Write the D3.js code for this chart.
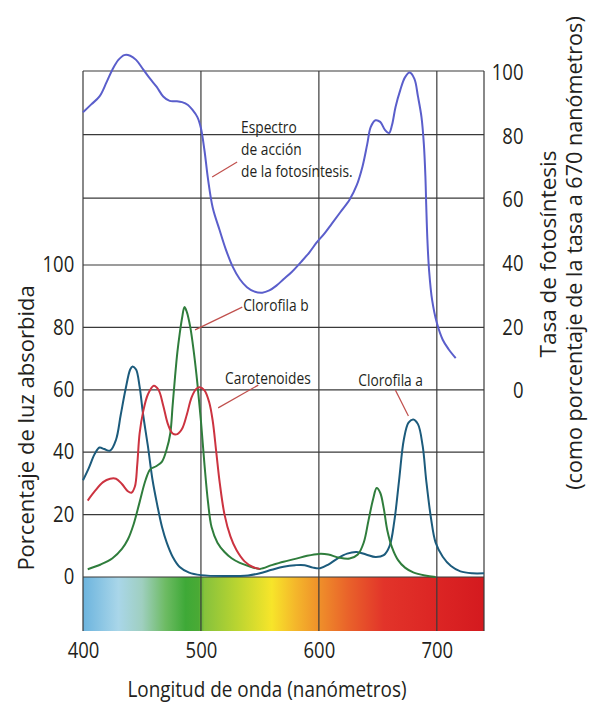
<!DOCTYPE html>
<html>
<head>
<meta charset="utf-8">
<script src="https://cdn.jsdelivr.net/npm/d3@7"></script>
<style>
body { margin: 0; background: #fff; }
text { font-family: "Open Sans", sans-serif; fill: #231f20; }
</style>
</head>
<body>
<div id="chart"></div>
<script>
var width = 590;
var height = 704;
var squeeze = 0.88; // el texto horizontal del original es estrecho

// ejes
var wavelengthTicks = [400, 500, 600, 700];
var absorbTicks = [0, 20, 40, 60, 80, 100];
var rateTicks = [0, 20, 40, 60, 80, 100];

// curvas: [nm, valor]
var clorofilaA = [[400,31],[405,35],[410,39.5],[414,41.5],[418,41],[423,40.5],[428,44],[432,52],[436,60],[440,66.5],[442,67.5],[445,66.5],[448,61],[451,52],[455,42],[459,31],[463,23],[467,16],[471,11],[476,6.5],[482,3.2],[490,1.4],[500,0.6],[520,0.3],[540,0.5],[550,1.2],[560,2.3],[570,3.3],[580,3.8],[588,3.8],[595,3],[601,2.8],[608,4],[616,6],[624,7.5],[632,8],[640,7.2],[648,6.4],[655,7],[660,10],[664,18],[668,31],[672,44],[676,49.5],[680,50.5],[684,49],[688,42],[691,31],[695,19],[699,11],[705,6.5],[712,3.5],[720,1.8],[730,1.2],[740,1.2]];
var clorofilaB = [[404,2.5],[415,4],[425,6],[433,9],[438,12],[443,17],[448,24],[453,31],[457,34.5],[462,35.5],[467,37],[471,41],[474,46],[476,55],[478,64],[480,72],[482,78],[484,83],[486,86.5],[488,85],[491,80],[494,72],[497,62],[500,50],[503,36],[506,24],[509,16],[514,11],[520,8],[526,6],[533,4.5],[542,3.3],[550,2.6],[560,3.8],[570,4.9],[580,5.8],[590,6.8],[600,7.4],[608,7.2],[617,6.2],[626,5.9],[633,7.2],[638,11],[642,18],[646,25],[649,28.5],[652,27],[655,22],[658,15],[662,9.5],[667,5.5],[673,3],[680,1.5],[690,0.5],[699,0]];
var carotenoides = [[404,24.5],[410,27.5],[417,30.4],[423,31.5],[428,31.5],[433,29.8],[438,27.5],[441,27],[444,29],[446,36],[448,46],[451,53],[455,58.5],[460,61.3],[464,60],[468,55],[472,49],[476,46],[480,45.8],[484,47.5],[488,52],[492,57.5],[496,60.3],[499,60.8],[503,59.8],[507,56],[510,50],[513,40],[516,30],[520,20],[525,13],[530,8.7],[537,5],[544,3.2],[550,2.6]];
var espectroAccion = [[400,87],[407,89.5],[414,92],[420,96.5],[425,100.5],[430,103.5],[435,105],[440,104.8],[445,103.5],[451,100.5],[457,97.5],[462.5,95],[468,92],[473.5,90.6],[479,90.5],[484,90.2],[489,89.3],[493,87.7],[497,85.5],[500,82],[503,75],[506,66],[510,57],[515.8,50],[521,44],[527,38.4],[533,34.5],[539,32],[545,30.7],[552,30.3],[558,31],[564,32.5],[570,34.5],[577,36.8],[585,40],[592,43],[598,46],[605,49],[611,52],[618,55.5],[626,59.5],[632,64],[637,70],[641,77],[644,82.4],[648,84.5],[652,84],[656,81.5],[659.5,80.5],[662,83],[665,88.7],[669,94],[673,98],[677,99.5],[681,97.5],[684,92],[687,85.5],[689,77],[690.3,67],[691,58],[692,47],[693.5,37],[696,28],[700,20.8],[705,15.5],[710,12.5],[716,9.7]];

// espectro visible
var spectrumNm = [400, 430, 450, 470, 487, 498, 503, 530, 560, 580, 600, 625, 655, 700, 740];
var spectrumColors = ["#6cb4de", "#a9d6e9", "#9fcfc0", "#6dbb63", "#3ea937", "#4aaa35", "#86c23c", "#b9d431", "#f7e52a", "#f4b72b", "#ef902a", "#e9622a", "#e2342a", "#dc2524", "#d41a1f"];

// etiquetas: texto, posición (nm, valor), línea indicadora
var labels = [
    { lines: ["Espectro", "de acción", "de la fotosíntesis."], axis: "right", at: [534, 80.5], from: [509.5, 66.7], to: [530.7, 71.4] },
    { lines: ["Clorofila b"], axis: "left", at: [535.8, 85.3], from: [495, 79.2], to: [535, 86.5] },
    { lines: ["Carotenoides"], axis: "left", at: [520.5, 61.9], from: [514.6, 54.2], to: [548.6, 61.5] },
    { lines: ["Clorofila a"], axis: "left", at: [633.4, 61.2], from: [664.9, 59.9], to: [675.9, 51.6] }
];

var x = d3.scaleLinear().domain([400, 740]).range([83, 484]);
var yLeft = d3.scaleLinear().domain([0, 100]).range([577, 265]);
var yRight = d3.scaleLinear().domain([0, 100]).range([389, 71]);
var plotTop = yRight(100);
var barBottom = 631;

var svg = d3.select("#chart")
    .append("svg")
    .attr("width", width)
    .attr("height", height);

// degradado del espectro
var grad = svg.append("defs").append("linearGradient")
    .attr("id", "spec")
    .attr("x1", "0%").attr("x2", "100%").attr("y1", "0%").attr("y2", "0%");
spectrumNm.forEach(function (d, i) {
    grad.append("stop")
        .attr("offset", ((x(d) - x(400)) / (x(740) - x(400)) * 100) + "%")
        .attr("stop-color", spectrumColors[i]);
});

svg.append("rect")
    .attr("x", x(400))
    .attr("y", yLeft(0))
    .attr("width", x(740) - x(400))
    .attr("height", barBottom - yLeft(0))
    .attr("fill", "url(#spec)");

// rejilla
var grid = svg.append("g").attr("stroke", "#3a3a3a").attr("stroke-width", 1.2);
absorbTicks.forEach(function (d) {
    grid.append("line")
        .attr("x1", x(400)).attr("x2", x(740))
        .attr("y1", yLeft(d)).attr("y2", yLeft(d));
});
[60, 80, 100].forEach(function (d) {
    grid.append("line")
        .attr("x1", x(400)).attr("x2", x(740))
        .attr("y1", yRight(d)).attr("y2", yRight(d));
});
wavelengthTicks.concat([740]).forEach(function (d) {
    grid.append("line")
        .attr("x1", x(d)).attr("x2", x(d))
        .attr("y1", plotTop).attr("y2", barBottom);
});

// curvas
var line = d3.line()
    .x(function (d) { return x(d[0]); })
    .y(function (d) { return yLeft(d[1]); })
    .curve(d3.curveCatmullRom.alpha(0.5));
var lineRight = d3.line()
    .x(function (d) { return x(d[0]); })
    .y(function (d) { return yRight(d[1]); })
    .curve(d3.curveCatmullRom.alpha(0.5));

var curves = [
    { data: clorofilaA, color: "#1c5b7c", gen: line },
    { data: clorofilaB, color: "#2f7d3c", gen: line },
    { data: carotenoides, color: "#cc3340", gen: line },
    { data: espectroAccion, color: "#5a5ecb", gen: lineRight }
];
curves.forEach(function (c) {
    svg.append("path")
        .attr("d", c.gen(c.data))
        .attr("fill", "none")
        .attr("stroke", c.color)
        .attr("stroke-width", 2);
});

// ejes
var xAxis = svg.append("g")
    .attr("transform", "translate(0," + barBottom + ")")
    .call(d3.axisBottom(x).tickValues(wavelengthTicks).tickSize(0).tickPadding(12));
var leftAxis = svg.append("g")
    .attr("transform", "translate(" + x(400) + ",0)")
    .call(d3.axisLeft(yLeft).tickValues(absorbTicks).tickSize(0).tickPadding(10));
var rightAxis = svg.append("g")
    .attr("transform", "translate(534,2)")
    .call(d3.axisLeft(yRight).tickValues(rateTicks).tickSize(0).tickPadding(12));
[xAxis, leftAxis, rightAxis].forEach(function (a) {
    a.select(".domain").remove();
    a.selectAll("text")
        .attr("font-family", "Open Sans")
        .attr("font-size", 21)
        .attr("fill", "#231f20")
        .attr("transform", "scale(" + squeeze + ",1)");
});

// títulos
svg.append("text")
    .attr("transform", "translate(267,697) scale(" + squeeze + ",1)")
    .attr("text-anchor", "middle")
    .attr("font-size", 21.5)
    .text("Longitud de onda (nanómetros)");
svg.append("text")
    .attr("transform", "translate(34,428) rotate(-90)")
    .attr("text-anchor", "middle")
    .attr("font-size", 22)
    .text("Porcentaje de luz absorbida");
svg.append("text")
    .attr("transform", "translate(556,254) rotate(-90)")
    .attr("text-anchor", "middle")
    .attr("font-size", 22.5)
    .text("Tasa de fotosíntesis");
svg.append("text")
    .attr("transform", "translate(582,253) rotate(-90)")
    .attr("text-anchor", "middle")
    .attr("font-size", 21.6)
    .text("(como porcentaje de la tasa a 670 nanómetros)");

// etiquetas con línea indicadora
labels.forEach(function (l) {
    var yS = l.axis == "right" ? yRight : yLeft;
    svg.append("line")
        .attr("x1", x(l.from[0])).attr("y1", yS(l.from[1]))
        .attr("x2", x(l.to[0])).attr("y2", yS(l.to[1]))
        .attr("stroke", "#c0504d")
        .attr("stroke-width", 1.2);
    var t = svg.append("text")
        .attr("transform", "translate(" + x(l.at[0]) + "," + yS(l.at[1]) + ") scale(0.86,1)")
        .attr("font-size", 16);
    l.lines.forEach(function (s, i) {
        t.append("tspan").attr("x", 0).attr("dy", i == 0 ? 0 : 22).text(s);
    });
});
</script>
</body>
</html>
